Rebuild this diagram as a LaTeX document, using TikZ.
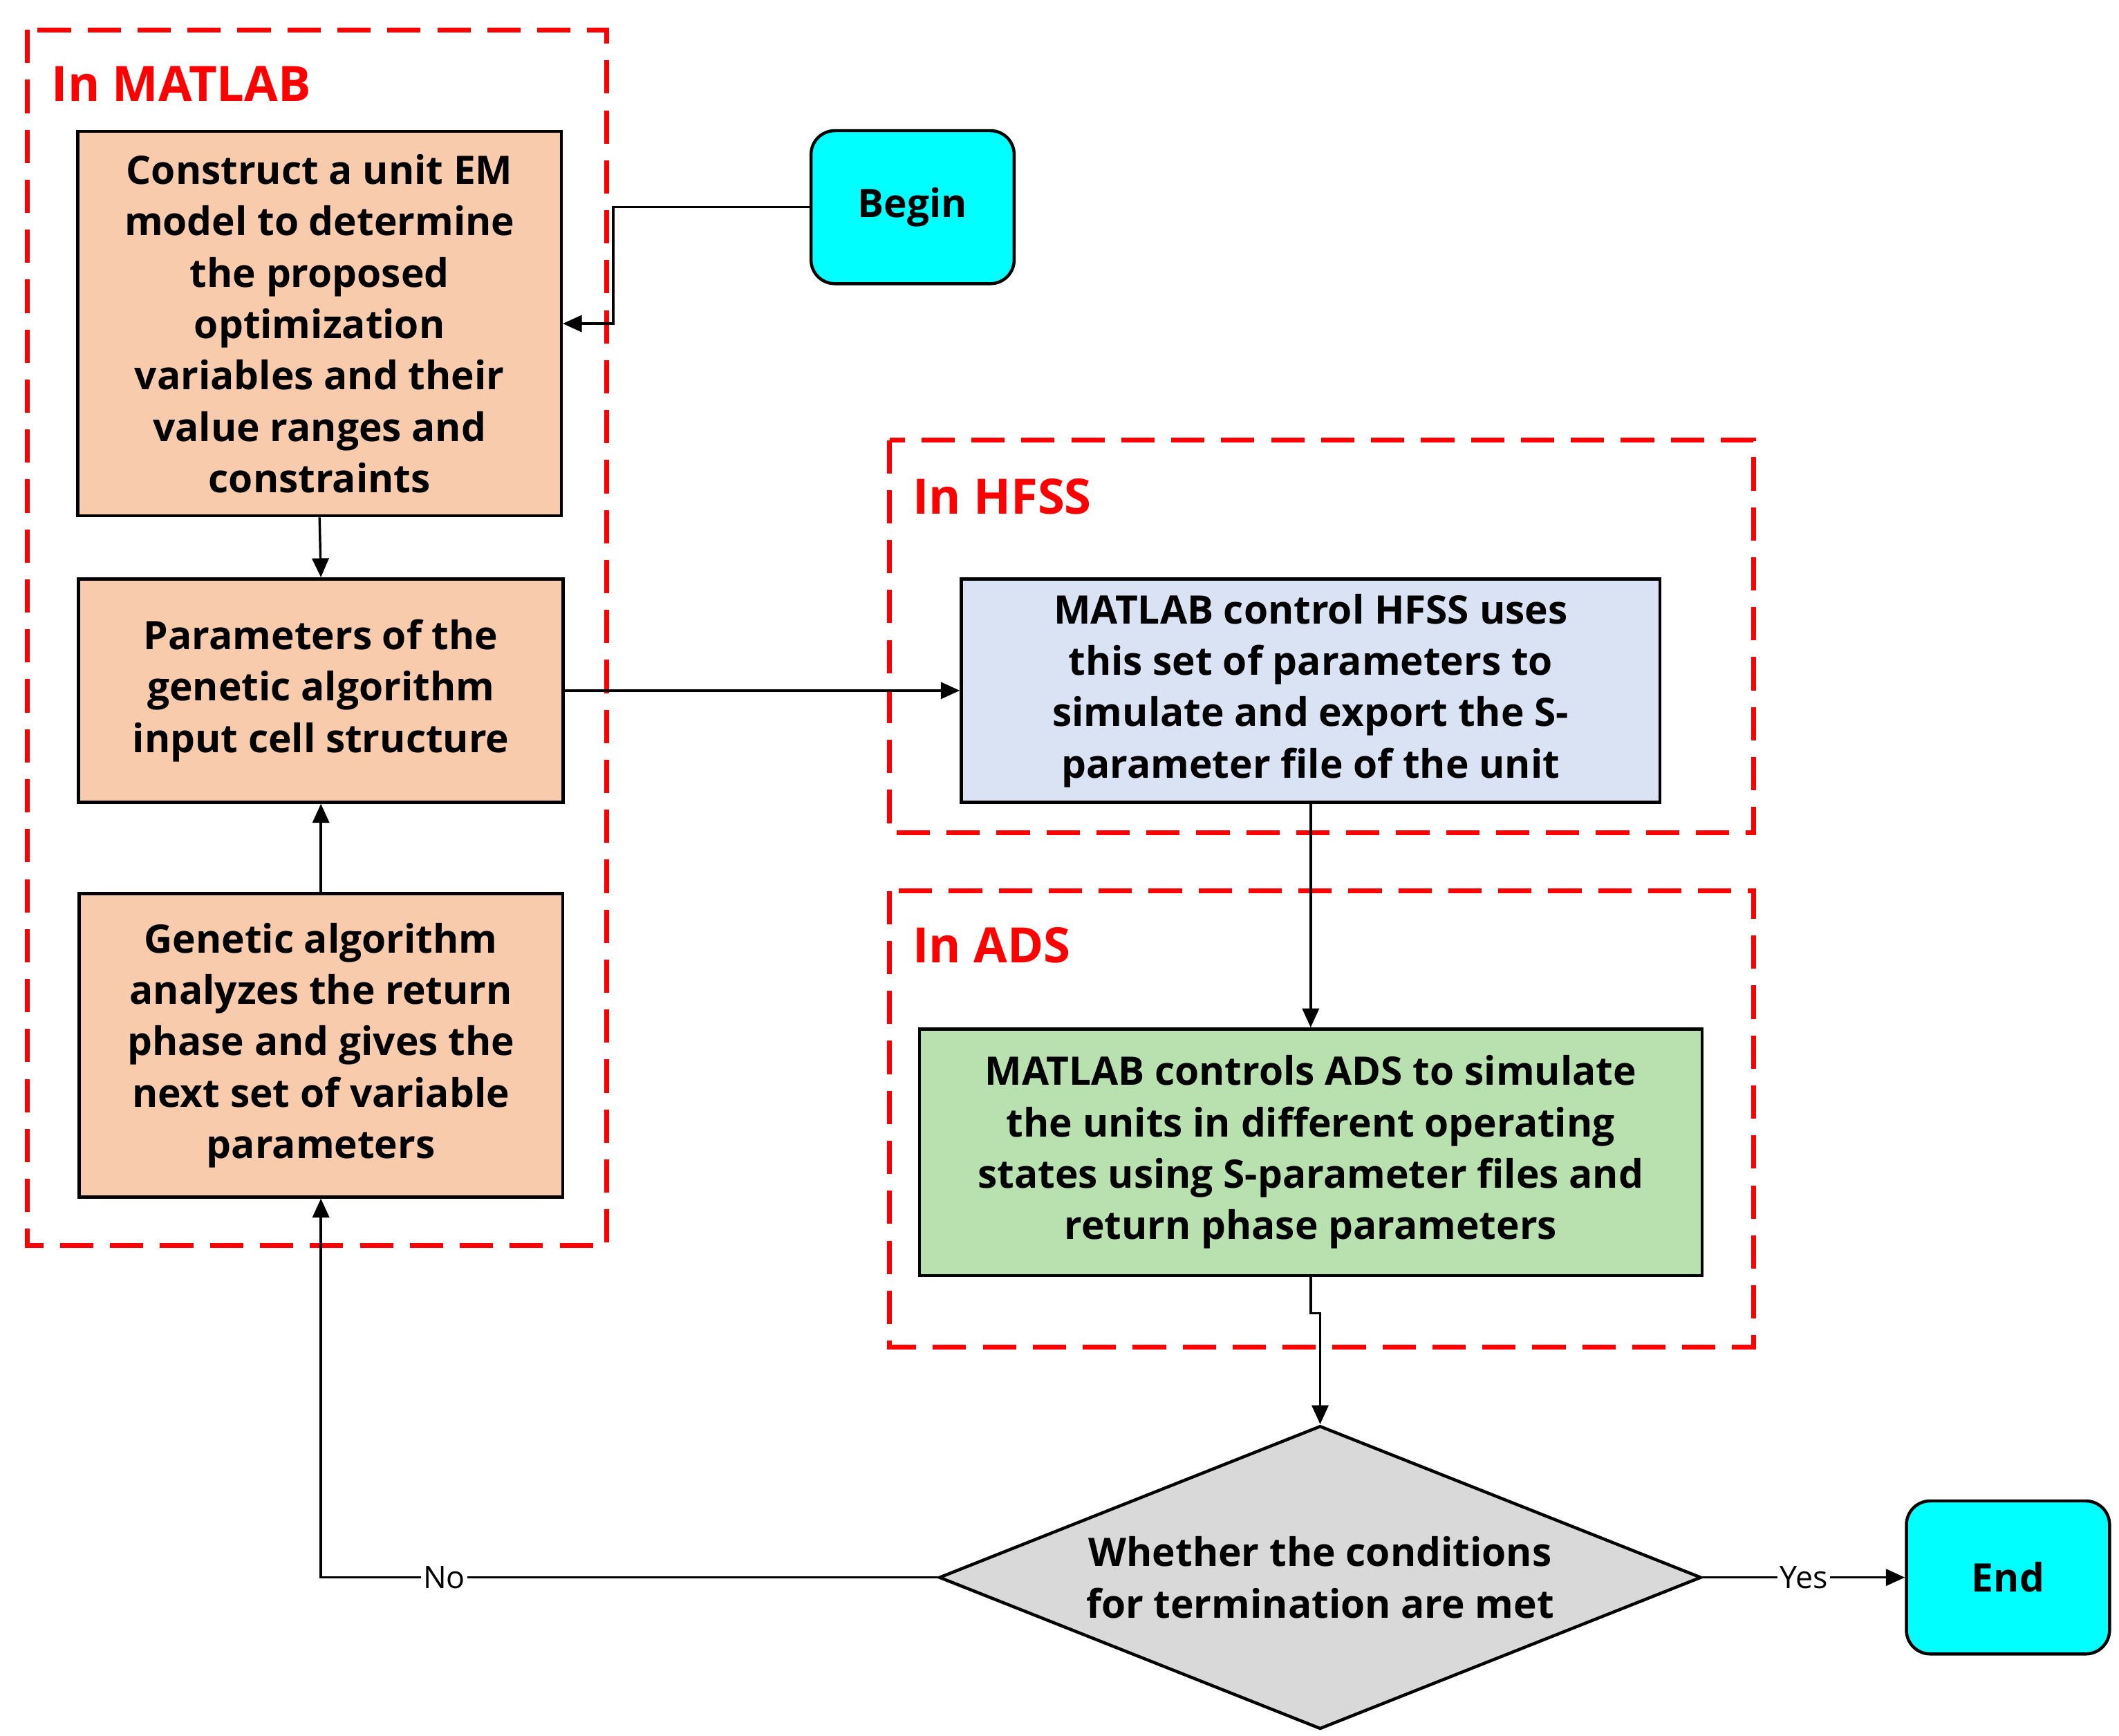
\documentclass[tikz,border=0pt]{standalone}
\usepackage{fontspec}
\setmainfont{Open Sans}
\usetikzlibrary{shapes.geometric,arrows.meta}
\definecolor{cy}{RGB}{0,255,255}
\definecolor{orf}{RGB}{248,203,173}
\definecolor{blf}{RGB}{218,227,243}
\definecolor{grf}{RGB}{185,224,175}
\definecolor{gyf}{RGB}{217,217,217}
\begin{document}
\begin{tikzpicture}[x=0.02cm,y=-0.02cm,
 box/.style={draw,line width=1.3pt,align=center,font=\fontsize{16.5}{21.6}\selectfont\bfseries,inner sep=0pt},
 grp/.style={draw=red,line width=2pt,dash pattern=on 14pt off 7pt},
 glab/.style={anchor=west,text=red,font=\fontsize{20.5}{24}\selectfont\bfseries},
 arr/.style={-{Triangle[length=8pt,width=7pt]},line width=1pt},
 lab/.style={fill=white,inner sep=1pt,font=\fontsize{13}{15}\selectfont}]
\useasboundingbox (0,0) rectangle (1565,1282);
\draw[grp] (20,22) rectangle (448,920);
\node[glab] (lm) at (32,62) {In MATLAB};
\draw[grp] (657,325) rectangle (1295,615);
\node[glab] (lh) at (668,367) {In HFSS};
\draw[grp] (657,658) rectangle (1295,995);
\node[glab] (la) at (668,698) {In ADS};
\node[box,fill=orf,minimum width=357*0.02cm,minimum height=284*0.02cm] (b1) at (236,239) {Construct a unit EM\\model to determine\\the proposed\\optimization\\variables and their\\value ranges and\\constraints};
\node[box,fill=orf,minimum width=358*0.02cm,minimum height=165*0.02cm] (b2) at (237,510) {Parameters of the\\genetic algorithm\\input cell structure};
\node[box,fill=orf,minimum width=357*0.02cm,minimum height=224*0.02cm] (b3) at (237,772) {Genetic algorithm\\analyzes the return\\phase and gives the\\next set of variable\\parameters};
\node[box,fill=cy,rounded corners=10pt,minimum width=150*0.02cm,minimum height=113*0.02cm] (begin) at (674,153) {Begin};
\node[box,fill=blf,minimum width=516*0.02cm,minimum height=165*0.02cm] (hf) at (968,510) {MATLAB control HFSS uses\\this set of parameters to\\simulate and export the S-\\parameter file of the unit};
\node[box,fill=grf,minimum width=578*0.02cm,minimum height=182*0.02cm] (ads) at (968,851) {MATLAB controls ADS to simulate\\the units in different operating\\states using S-parameter files and\\return phase parameters};
\node[box,diamond,fill=gyf,aspect=2.51,minimum width=563*0.02cm,minimum height=224*0.02cm,inner sep=0pt] (d) at (975,1165) {Whether the conditions\\for termination are met};
\node[box,fill=cy,rounded corners=10pt,minimum width=150*0.02cm,minimum height=113*0.02cm] (end) at (1483,1165) {End};
\draw[arr] (begin.west) -- (453,153) -- (453,239) -- (b1.east);
\draw[arr] (b1.south) -- (b2.north);
\draw[arr] (b3.north) -- (b2.south);
\draw[arr] (b2.east) -- (hf.west);
\draw[arr] (hf.south) -- (ads.north);
\draw[arr] (ads.south) -- (968,970) -- (975,970) -- (d.north);
\draw[arr] (d.west) -- node[lab,pos=0.8]{No} (237,1165) -- (b3.south);
\draw[arr] (d.east) -- node[lab]{Yes} (end.west);
\end{tikzpicture}
\end{document}
